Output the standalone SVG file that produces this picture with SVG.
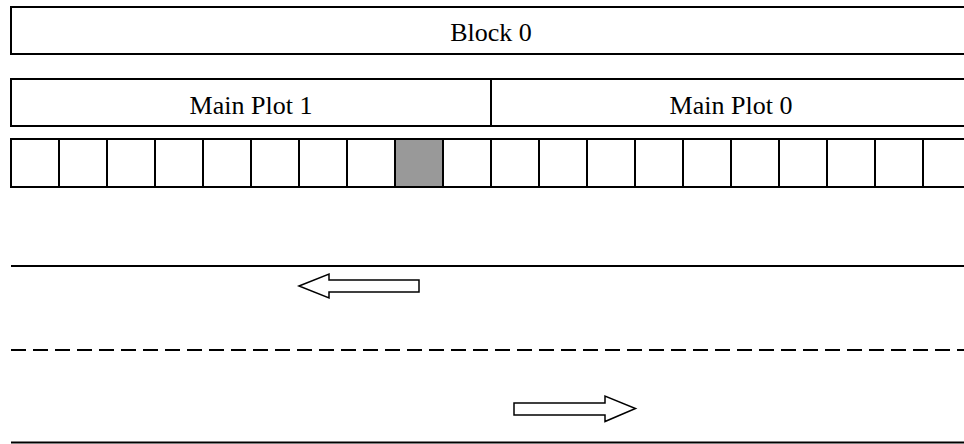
<svg xmlns="http://www.w3.org/2000/svg" width="964" height="444" viewBox="0 0 964 444">
<style>
.box{fill:#fff;stroke:#000;stroke-width:2}
.cell{fill:#fff;stroke:#000;stroke-width:2}
.sel{fill:#999;stroke:#000;stroke-width:2}
.lbl{font-family:"Liberation Serif","Times New Roman",serif;font-size:26px;fill:#000;text-anchor:middle}
.ln{stroke:#000;stroke-width:2;fill:none}
.arr{fill:#fff;stroke:#000;stroke-width:1.5;stroke-linejoin:miter}
</style>
<rect width="964" height="444" fill="#fff"/>
<g id="block0">
<rect class="box" x="11" y="7" width="960" height="47"/>
<text class="lbl" x="491" y="41">Block 0</text>
</g>
<g id="mainplot1">
<rect class="box" x="11" y="79" width="480" height="47"/>
<text class="lbl" x="251" y="114">Main Plot 1</text>
</g>
<g id="mainplot0">
<rect class="box" x="491" y="79" width="480" height="47"/>
<text class="lbl" x="731" y="114">Main Plot 0</text>
</g>
<g id="subplots">
<rect class="cell" x="11" y="139" width="48" height="48"/>
<rect class="cell" x="59" y="139" width="48" height="48"/>
<rect class="cell" x="107" y="139" width="48" height="48"/>
<rect class="cell" x="155" y="139" width="48" height="48"/>
<rect class="cell" x="203" y="139" width="48" height="48"/>
<rect class="cell" x="251" y="139" width="48" height="48"/>
<rect class="cell" x="299" y="139" width="48" height="48"/>
<rect class="cell" x="347" y="139" width="48" height="48"/>
<rect class="sel" x="395" y="139" width="48" height="48"/>
<rect class="cell" x="443" y="139" width="48" height="48"/>
<rect class="cell" x="491" y="139" width="48" height="48"/>
<rect class="cell" x="539" y="139" width="48" height="48"/>
<rect class="cell" x="587" y="139" width="48" height="48"/>
<rect class="cell" x="635" y="139" width="48" height="48"/>
<rect class="cell" x="683" y="139" width="48" height="48"/>
<rect class="cell" x="731" y="139" width="48" height="48"/>
<rect class="cell" x="779" y="139" width="48" height="48"/>
<rect class="cell" x="827" y="139" width="48" height="48"/>
<rect class="cell" x="875" y="139" width="48" height="48"/>
<rect class="cell" x="923" y="139" width="48" height="48"/>
</g>
<g id="lanes">
<line class="ln" x1="11" y1="266" x2="964" y2="266"/>
<line class="ln" x1="11" y1="350" x2="964" y2="350" stroke-dasharray="15 7"/>
<line class="ln" x1="11" y1="442.5" x2="964" y2="442.5"/>
</g>
<g id="connectors">
<polygon class="arr" points="299,286 329,274 329,280 419,280 419,292 329,292 329,298"/>
<polygon class="arr" points="514,403 605,403 605,396 635.5,408.5 605,421.5 605,415 514,415"/>
</g>
</svg>
